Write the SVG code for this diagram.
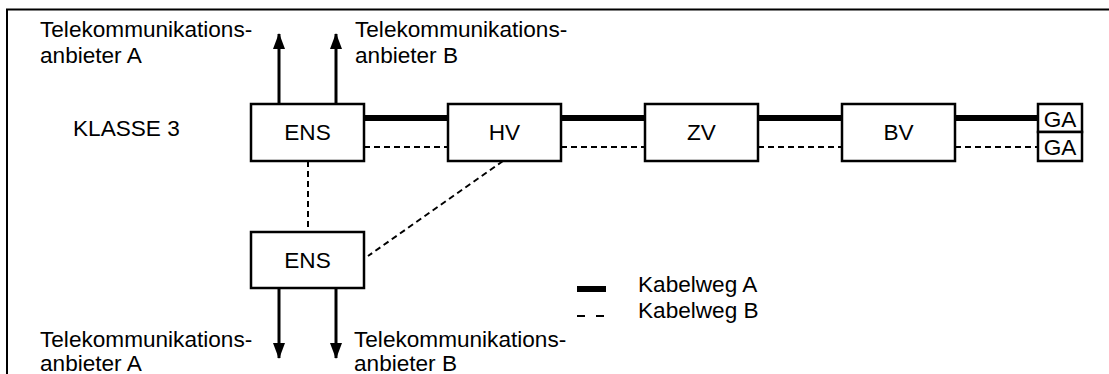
<svg xmlns="http://www.w3.org/2000/svg" width="1109" height="374" viewBox="0 0 1109 374">
<style>
text{font-family:"Liberation Sans",Arial,sans-serif;font-size:22.6px;fill:#000}
.c{text-anchor:middle}
.box{fill:#fff;stroke:#000;stroke-width:2.5}
.a{stroke:#000;stroke-width:6;fill:none}
.b{stroke:#000;stroke-width:2;stroke-dasharray:6,4;fill:none}
.arr{stroke:#000;stroke-width:3;fill:none}
</style>
<defs>
<marker id="ah" viewBox="0 0 16 12" refX="15" refY="6" markerWidth="16" markerHeight="12" markerUnits="userSpaceOnUse" orient="auto">
<path d="M0,0 L16,6 L0,12 Z" fill="#000"/>
</marker>
</defs>
<rect width="1109" height="374" fill="#fff"/>
<path d="M7,374 V9.5 H1109" stroke="#000" stroke-width="2" fill="none"/>
<g id="connectors">
<path class="a" d="M364,118 H448 M561,118 H645 M758,118 H842 M955,118 H1038"/>
<path class="b" d="M364,147 H448 M561,147 H645 M758,147 H842 M955,147 H1038"/>
<path class="b" d="M308,161 V232"/>
<path class="b" d="M503,161 L368,256"/>
<line class="arr" x1="279" y1="104" x2="279" y2="34" marker-end="url(#ah)"/>
<line class="arr" x1="336" y1="104" x2="336" y2="34" marker-end="url(#ah)"/>
<line class="arr" x1="279" y1="288" x2="279" y2="358" marker-end="url(#ah)"/>
<line class="arr" x1="336" y1="288" x2="336" y2="358" marker-end="url(#ah)"/>
</g>
<g id="ens-top"><rect class="box" x="251" y="104" width="113" height="57"/><text class="c" x="307.5" y="140">ENS</text></g>
<g id="hv"><rect class="box" x="448" y="104" width="113" height="57"/><text class="c" x="504.5" y="140">HV</text></g>
<g id="zv"><rect class="box" x="645" y="104" width="113" height="57"/><text class="c" x="701.5" y="140">ZV</text></g>
<g id="bv"><rect class="box" x="842" y="104" width="113" height="57"/><text class="c" x="898.5" y="140">BV</text></g>
<g id="ga-a"><rect class="box" x="1038" y="104" width="44" height="28"/><text class="c" x="1060" y="127">GA</text></g>
<g id="ga-b"><rect class="box" x="1038" y="132" width="44" height="29"/><text class="c" x="1060" y="155">GA</text></g>
<g id="ens-bottom"><rect class="box" x="251" y="232" width="113" height="56"/><text class="c" x="307.5" y="268">ENS</text></g>
<g id="labels">
<text x="40" y="37">Telekommunikations-</text>
<text x="40" y="63">anbieter A</text>
<text x="355" y="37">Telekommunikations-</text>
<text x="355" y="63">anbieter B</text>
<text x="73" y="136">KLASSE 3</text>
<text x="40" y="347">Telekommunikations-</text>
<text x="40" y="371">anbieter A</text>
<text x="354" y="347">Telekommunikations-</text>
<text x="354" y="371">anbieter B</text>
</g>
<g id="legend">
<rect x="577" y="286" width="29" height="6" fill="#000"/>
<path d="M577,316 H585 M596,316 H604" stroke="#000" stroke-width="2"/>
<text x="638" y="292">Kabelweg A</text>
<text x="638" y="318">Kabelweg B</text>
</g>
</svg>
